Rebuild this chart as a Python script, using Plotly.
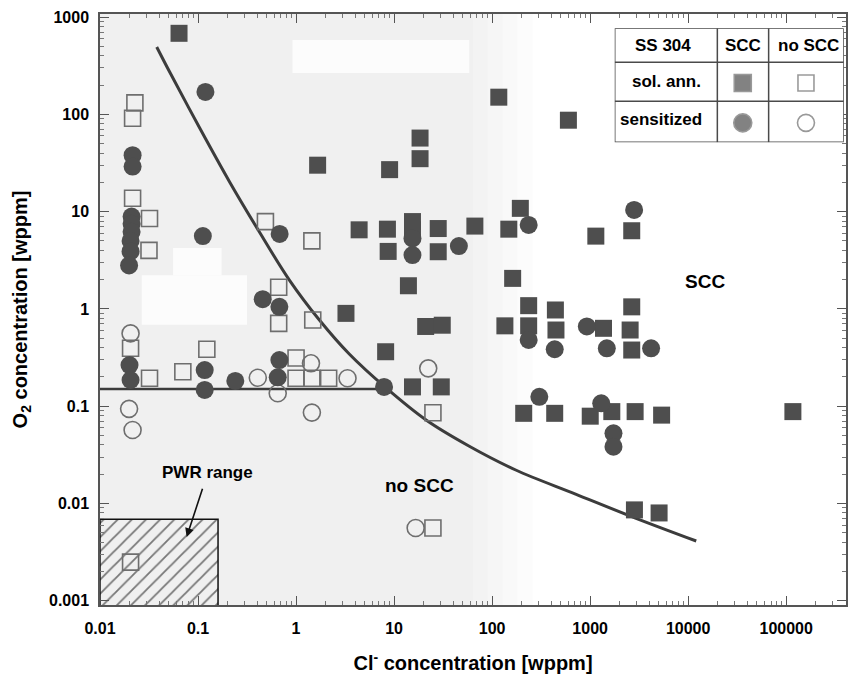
import numpy as np
import plotly.graph_objects as go

# ---------------- data (Cl- in wppm, O2 in wppm) ----------------
# solution annealed, SCC observed
sa_scc_cl = [0.064, 1.66, 9.0, 18.4, 18.4, 117, 600, 4.4, 8.55, 15.4, 15.4, 8.7, 28.2, 66.7,
             28.2, 14, 3.23, 21, 31, 8.2, 15.4, 30.3, 194, 148, 1143, 2656, 162, 236, 442,
             2656, 135, 236, 448, 1369, 2558, 2656, 210, 435, 1002, 1663, 2877, 5360,
             117000, 2830, 5050]
sa_scc_o2 = [680, 30, 27, 57, 35, 150, 87, 6.5, 6.6, 7.9, 6.5, 3.9, 6.7, 7.1,
             3.87, 1.73, 0.90, 0.66, 0.68, 0.363, 0.158, 0.158, 10.8, 6.6, 5.6, 6.36, 2.06, 1.08, 0.975,
             1.05, 0.67, 0.67, 0.607, 0.632, 0.607, 0.378, 0.0845, 0.0845, 0.079, 0.088, 0.088, 0.081,
             0.088, 0.0086, 0.0080]

# sensitized, SCC observed
se_scc_cl = [0.119, 0.0215, 0.0215, 0.021, 0.021, 0.021, 0.0205, 0.0205, 0.0198, 0.112, 0.68,
             0.457, 0.676, 0.02, 0.0205, 0.117, 0.117, 0.24, 0.676, 0.65, 7.9, 15.4, 15.4,
             45.8, 236, 2810, 236, 435, 925, 1479, 4186, 303, 1297, 1730, 1730]
se_scc_o2 = [170, 38, 29, 8.9, 7.5, 6.2, 5.0, 3.9, 2.8, 5.6, 5.9,
             1.26, 1.05, 0.265, 0.186, 0.235, 0.147, 0.182, 0.298, 0.198, 0.158, 5.3, 3.58,
             4.43, 7.3, 10.4, 0.48, 0.385, 0.66, 0.394, 0.394, 0.125, 0.107, 0.0526, 0.0384]

# solution annealed, no SCC
sa_no_cl = [0.0227, 0.0215, 0.0215, 0.032, 0.0316, 0.487, 1.45, 0.665, 0.665, 1.48, 0.0205,
            0.032, 0.070, 0.123, 1.0, 1.0, 1.45, 2.15, 24.9, 24.9, 0.0205]
sa_no_o2 = [131, 91, 13.7, 8.5, 4.0, 7.9, 5.0, 1.67, 0.71, 0.77, 0.394,
            0.194, 0.226, 0.385, 0.313, 0.194, 0.194, 0.194, 0.0857, 0.0056, 0.0025]

# sensitized, no SCC
se_no_cl = [0.0205, 0.0198, 0.0215, 0.407, 0.65, 1.42, 3.35, 1.45, 22.3, 16.6]
se_no_o2 = [0.56, 0.094, 0.057, 0.196, 0.136, 0.276, 0.194, 0.086, 0.245, 0.0056]

# SCC / no SCC boundary
bound_cl = [0.0379, 0.0514, 0.104, 0.210, 0.423, 0.855, 1.73, 3.49, 8.29, 21.2, 57.9,
            174, 710, 2896, 12090]
bound_o2 = [492, 272, 72.3, 20.2, 6.17, 1.98, 0.769, 0.344, 0.154, 0.0721, 0.0390,
            0.0221, 0.0125, 0.00709, 0.00412]

# low-oxygen threshold below the boundary
thresh_cl = [0.01, 7.9]
thresh_o2 = [0.15, 0.15]

# PWR operating window
pwr_cl = [0.01, 0.16]
pwr_o2 = [0.0008, 0.0069]

x_ticks = [0.01, 0.1, 1, 10, 100, 1000, 10000, 100000]
x_tick_text = ["0.01", "0.1", "1", "10", "100", "1000", "10000", "100000"]
y_ticks = [0.001, 0.01, 0.1, 1, 10, 100, 1000]
y_tick_text = ["0.001", "0.01", "0.1", "1", "10", "100", "1000"]
minor_ticks = [d * 10.0 ** e for e in range(-3, 6) for d in range(2, 10)]

FONT = "Liberation Sans, Arial, sans-serif"
DARK = "#4e4e4e"
OPEN = "#6e6e6e"

fig = go.Figure()

# PWR range hatched box
fig.add_trace(go.Scatter(
    x=[pwr_cl[0], pwr_cl[1], pwr_cl[1], pwr_cl[0], pwr_cl[0]],
    y=[pwr_o2[0], pwr_o2[0], pwr_o2[1], pwr_o2[1], pwr_o2[0]],
    mode="lines", fill="toself",
    fillcolor="rgba(0,0,0,0)",
    fillpattern=dict(shape="/", size=10, solidity=0.18, fgcolor="#000000",
                     bgcolor="rgba(0,0,0,0)"),
    line=dict(color="#111111", width=1.5),
    hoverinfo="skip", showlegend=False))

# boundary curve and threshold line
fig.add_trace(go.Scatter(x=bound_cl, y=bound_o2, mode="lines",
                         line=dict(color="#3c3c3c", width=3, shape="spline", smoothing=1.0),
                         hoverinfo="skip", showlegend=False))
fig.add_trace(go.Scatter(x=thresh_cl, y=thresh_o2, mode="lines",
                         line=dict(color="#3c3c3c", width=2.5),
                         hoverinfo="skip", showlegend=False))

# data points
fig.add_trace(go.Scatter(x=sa_no_cl, y=sa_no_o2, mode="markers",
                         marker=dict(symbol="square-open", size=16, color=OPEN,
                                     line=dict(width=1.6, color=OPEN)),
                         showlegend=False))
fig.add_trace(go.Scatter(x=se_no_cl, y=se_no_o2, mode="markers",
                         marker=dict(symbol="circle-open", size=17, color=OPEN,
                                     line=dict(width=1.6, color=OPEN)),
                         showlegend=False))
fig.add_trace(go.Scatter(x=sa_scc_cl, y=sa_scc_o2, mode="markers",
                         marker=dict(symbol="square", size=17, color=DARK,
                                     line=dict(width=0)),
                         showlegend=False))
fig.add_trace(go.Scatter(x=se_scc_cl, y=se_scc_o2, mode="markers",
                         marker=dict(symbol="circle", size=18, color=DARK,
                                     line=dict(width=0)),
                         showlegend=False))

# legend table symbols (drawn on an auxiliary unit axis pair)
leg_x = [0.559, 0.835, 0.559, 0.835]
leg_y = [0.52, 0.52, 0.17, 0.17]
leg_sym = ["square", "square-open", "circle", "circle-open"]
fig.add_trace(go.Scatter(x=leg_x, y=leg_y, xaxis="x2", yaxis="y2", mode="markers",
                         marker=dict(symbol=leg_sym, size=[17, 16, 18, 17],
                                     color=[DARK, OPEN, DARK, OPEN],
                                     line=dict(width=1.6, color=OPEN)),
                         hoverinfo="skip", showlegend=False))

# background shading of the plot field
shapes = []
bands = [(0.00, 0.50, "#f0f0f0"), (0.50, 0.52, "#f3f3f3"), (0.52, 0.54, "#f6f6f6"),
         (0.54, 0.56, "#f9f9f9"), (0.56, 0.58, "#fcfcfc")]
for x0, x1, c in bands:
    shapes.append(dict(type="rect", xref="paper", yref="paper", x0=x0, x1=x1, y0=0, y1=1,
                       fillcolor=c, line_width=0, layer="below"))
for x0, x1, y0, y1 in [(0.258, 0.495, 0.900, 0.956), (0.098, 0.163, 0.558, 0.604),
                       (0.056, 0.197, 0.474, 0.558)]:
    shapes.append(dict(type="rect", xref="paper", yref="paper", x0=x0, x1=x1, y0=y0, y1=y1,
                       fillcolor="#fcfcfc", line_width=0, layer="below"))

# legend table grid
tbl = dict(xref="x2", yref="y2", line=dict(color="#4a4a4a", width=1.5), layer="above")
shapes += [
    dict(type="rect", x0=0, x1=1, y0=0, y1=1, **tbl),
    dict(type="line", x0=0.448, x1=0.448, y0=0, y1=1, **tbl),
    dict(type="line", x0=0.672, x1=0.672, y0=0, y1=1, **tbl),
    dict(type="line", x0=0, x1=1, y0=0.702, y1=0.702, **tbl),
    dict(type="line", x0=0, x1=1, y0=0.360, y1=0.360, **tbl),
]

def bold(size):
    return dict(family=FONT, size=size, color="black", weight="bold")

annotations = [
    dict(xref="x2", yref="y2", x=0.211, y=0.851, text="SS 304", showarrow=False, font=bold(17)),
    dict(xref="x2", yref="y2", x=0.559, y=0.851, text="SCC", showarrow=False, font=bold(17)),
    dict(xref="x2", yref="y2", x=0.846, y=0.851, text="no SCC", showarrow=False, font=bold(17)),
    dict(xref="x2", yref="y2", x=0.226, y=0.529, text="sol. ann.", showarrow=False, font=bold(17)),
    dict(xref="x2", yref="y2", x=0.204, y=0.199, text="sensitized", showarrow=False, font=bold(17)),
    dict(x=4.171, y=0.280, text="SCC", showarrow=False, font=bold(19)),
    dict(x=1.261, y=-1.810, text="no SCC", showarrow=False, font=bold(19)),
    # label with arrow pointing into the PWR window
    dict(x=-1.116, y=-2.344, text="PWR range", showarrow=True, ax=21, ay=-64,
         startstandoff=5, arrowhead=2, arrowsize=1.1, arrowwidth=1.6,
         arrowcolor="#111111", font=bold(17)),
]

axis_common = dict(
    type="log", showgrid=False, zeroline=False,
    showline=True, linecolor="#555555", linewidth=1.5, mirror="ticks",
    ticks="inside", ticklen=9, tickwidth=1.3, tickcolor="#555555",
    tickfont=bold(16),
    minor=dict(tickmode="array", tickvals=minor_ticks, ticks="inside", ticklen=4,
               tickwidth=1, tickcolor="#777777", showgrid=False),
)

fig.update_layout(
    width=852, height=678,
    margin=dict(l=100, r=4, t=14, b=73),
    paper_bgcolor="white", plot_bgcolor="white",
    font=dict(family=FONT, color="black"),
    xaxis=dict(axis_common, range=[-2.0, 5.61], tickmode="array",
               tickvals=x_ticks, ticktext=x_tick_text, ticklabelstandoff=8,
               title=dict(text="Cl<sup>-</sup> concentration [wppm]", standoff=20,
                          font=bold(20))),
    yaxis=dict(axis_common, range=[-3.043, 3.031], tickmode="array",
               tickvals=y_ticks, ticktext=y_tick_text, ticklabelstandoff=6,
               title=dict(text="O<sub>2</sub> concentration [wppm]", standoff=16,
                          font=bold(20))),
    xaxis2=dict(domain=[0.690, 0.997], range=[0, 1], visible=False, fixedrange=True, anchor="y2"),
    yaxis2=dict(domain=[0.783, 0.976], range=[0, 1], visible=False, fixedrange=True, anchor="x2"),
    shapes=shapes,
    annotations=annotations,
)

fig.write_html("out.html")
